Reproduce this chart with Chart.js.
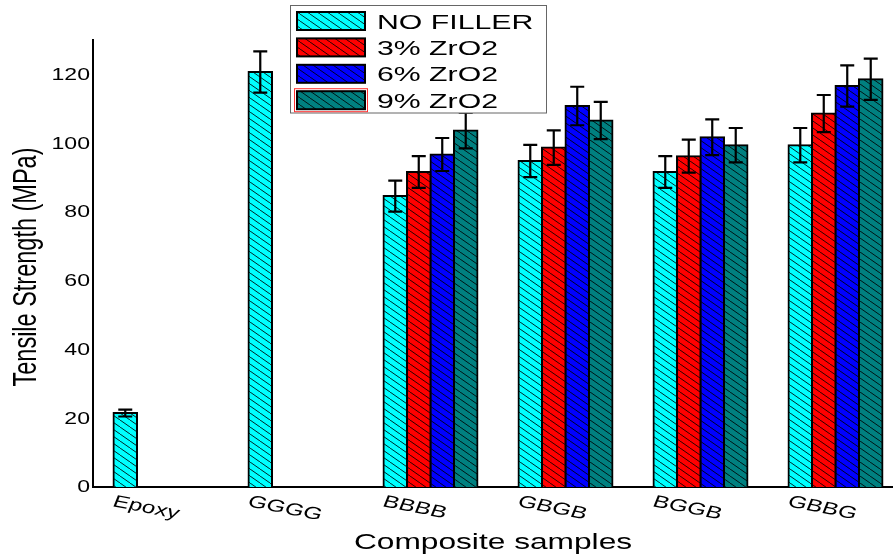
<!DOCTYPE html>
<html>
<head>
<meta charset="utf-8">
<script src="https://cdn.jsdelivr.net/npm/chart.js@4/dist/chart.umd.min.js"></script>
<style>
  html, body { margin: 0; padding: 0; background: #fff; overflow: hidden; }
  #wrap { width: 903px; height: 556px; position: relative; }
</style>
</head>
<body>
<div id="wrap"><canvas id="chart"></canvas></div>
<script>
// Datos
const categories = ['Epoxy', 'GGGG', 'BBBB', 'GBGB', 'BGGB', 'GBBG'];
const seriesNames = ['NO FILLER', '3% ZrO2', '6% ZrO2', '9% ZrO2'];

const noFiller = [21.5, 120.7, 84.6, 94.8, 91.6, 99.4];
const zro2_3 = [null, null, 91.6, 98.7, 96.2, 108.6];
const zro2_6 = [null, null, 96.7, 110.8, 101.7, 116.6];
const zro2_9 = [null, null, 103.7, 106.6, 99.4, 118.6];

const noFillerErr = [1.0, 6.0, 4.5, 4.7, 4.6, 5.0];
const zro2_3Err = [null, null, 4.6, 5.0, 4.8, 5.4];
const zro2_6Err = [null, null, 4.8, 5.6, 5.2, 6.0];
const zro2_9Err = [null, null, 5.2, 5.4, 5.0, 6.0];

const yTickValues = [0, 20, 40, 60, 80, 100, 120];

const xTitle = 'Composite samples';
const yTitle = 'Tensile Strength (MPa)';

// La figura original está estirada en horizontal
const SX = 1.44;
const FONT = '"Liberation Sans", Arial, sans-serif';

// Relleno con rayado diagonal
function hatch(color) {
    const c = document.createElement('canvas');
    c.width = 10;
    c.height = 7;
    const g = c.getContext('2d');
    g.fillStyle = color;
    g.fillRect(0, 0, 10, 7);
    g.strokeStyle = 'rgba(0,0,0,0.85)';
    g.lineWidth = 1;
    for (let k = -1; k <= 1; k++) {
        g.beginPath();
        g.moveTo(k * 10, 0);
        g.lineTo(k * 10 + 10, 7);
        g.stroke();
    }
    return g.createPattern(c, 'repeat');
}

const colors = ['#00ffff', '#ff0000', '#0000ff', '#008080'];
const values = [noFiller, zro2_3, zro2_6, zro2_9];
const errors = [noFillerErr, zro2_3Err, zro2_6Err, zro2_9Err];

function stretchText(ctx, text, x, y, align, baseline, angle) {
    ctx.save();
    ctx.translate(x, y);
    ctx.scale(SX, 1);
    if (angle) ctx.rotate(angle);
    ctx.textAlign = align;
    ctx.textBaseline = baseline;
    ctx.fillText(text, 0, 0);
    ctx.restore();
}

// Barras de error
const errorBars = {
    id: 'errorBars',
    afterDatasetsDraw(chart) {
        const ctx = chart.ctx;
        const y = chart.scales.y;
        ctx.save();
        ctx.strokeStyle = '#000';
        ctx.lineWidth = 2.2;
        chart.data.datasets.forEach((ds, i) => {
            const meta = chart.getDatasetMeta(i);
            meta.data.forEach((bar, j) => {
                const v = ds.data[j];
                const e = errors[i][j];
                if (v == null || e == null) return;
                const top = y.getPixelForValue(v + e);
                const bot = y.getPixelForValue(v - e);
                ctx.beginPath();
                ctx.moveTo(bar.x, top);
                ctx.lineTo(bar.x, bot);
                ctx.moveTo(bar.x - 7, top);
                ctx.lineTo(bar.x + 7, top);
                ctx.moveTo(bar.x - 7, bot);
                ctx.lineTo(bar.x + 7, bot);
                ctx.stroke();
            });
        });
        ctx.restore();
    }
};

// Textos de ejes y leyenda
const labelsAndLegend = {
    id: 'labelsAndLegend',
    afterDraw(chart) {
        const ctx = chart.ctx;
        const x = chart.scales.x;
        const y = chart.scales.y;
        ctx.save();
        ctx.fillStyle = '#000';

        // Etiquetas eje Y
        ctx.font = '16px ' + FONT;
        y.ticks.forEach(t => {
            stretchText(ctx, String(t.value), 90, y.getPixelForValue(t.value) + 1, 'right', 'middle');
        });

        // Título eje Y
        ctx.font = '23.5px ' + FONT;
        stretchText(ctx, yTitle, 27, 267, 'center', 'middle', -Math.PI / 2);

        // Etiquetas eje X (inclinadas)
        ctx.font = '17px ' + FONT;
        const ang = Math.atan(SX * Math.tan(11 * Math.PI / 180));
        categories.forEach((c, i) => {
            const px = x.getPixelForValue(i);
            stretchText(ctx, c, px - 49, 506, 'left', 'alphabetic', ang);
        });

        // Título eje X
        ctx.font = '22px ' + FONT;
        stretchText(ctx, xTitle, 493, 549, 'center', 'alphabetic');

        // Leyenda
        ctx.fillStyle = '#fff';
        ctx.fillRect(291, 6, 256, 107);
        ctx.strokeStyle = '#666';
        ctx.lineWidth = 1;
        ctx.strokeRect(290.5, 5.5, 256, 107.5);
        ctx.font = '21px ' + FONT;
        chart.data.datasets.forEach((ds, i) => {
            const cy = 21 + i * 26.4;
            ctx.fillStyle = ds.backgroundColor;
            ctx.fillRect(297, cy - 9, 68, 18);
            ctx.strokeStyle = '#000';
            ctx.lineWidth = 2;
            ctx.strokeRect(297, cy - 9, 68, 18);
            if (i === 3) {
                ctx.strokeStyle = '#ff3030';
                ctx.lineWidth = 1;
                ctx.strokeRect(294.5, cy - 11.5, 73, 23);
            }
            ctx.fillStyle = '#000';
            stretchText(ctx, ds.label, 377, cy + 7.5, 'left', 'alphabetic');
        });
        ctx.restore();
    }
};

const ctx = document.getElementById('chart').getContext('2d');
const chart = new Chart(ctx, {
    type: 'bar',
    data: {
        labels: categories,
        datasets: seriesNames.map((name, i) => ({
            label: name,
            data: values[i],
            backgroundColor: hatch(colors[i]),
            borderColor: '#000',
            borderWidth: 2,
            inflateAmount: 1,
            categoryPercentage: 0.696,
            barPercentage: 1.0
        }))
    },
    options: {
        responsive: true,
        maintainAspectRatio: false,
        animation: false,
        events: [],
        layout: {
            padding: { left: 93, top: 40, right: 0, bottom: 69 }
        },
        plugins: {
            legend: { display: false },
            tooltip: { enabled: false }
        },
        scales: {
            x: {
                grid: { display: false, drawTicks: false },
                border: { display: true, color: '#000', width: 2 },
                ticks: { display: false }
            },
            y: {
                min: 0,
                max: 130,
                afterBuildTicks: (scale) => {
                    scale.ticks = yTickValues.map(v => ({ value: v }));
                },
                grid: { display: false, drawTicks: false },
                border: { display: true, color: '#000', width: 2 },
                ticks: { display: false }
            }
        }
    },
    plugins: [errorBars, labelsAndLegend]
});
</script>
</body>
</html>
